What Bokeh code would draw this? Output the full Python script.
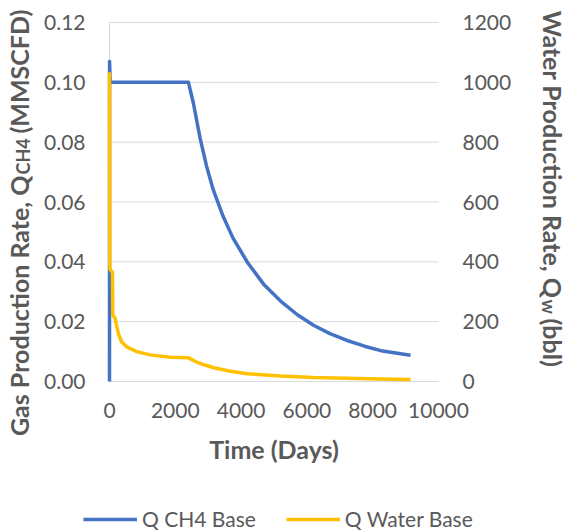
import numpy as np
from bokeh.plotting import figure
from bokeh.models import (Range1d, LinearAxis, Label, Legend, LegendItem,
                          FixedTicker, NumeralTickFormatter)
from bokeh.embed import file_html
from bokeh.resources import INLINE

# ---- data ----
time_ch4 = [0, 2, 20, 2400, 2550, 2750, 2950, 3150, 3450, 3750, 4200,
            4700, 5200, 5700, 6200, 6700, 7200, 7750, 8250, 9150]
q_ch4 = [0.0, 0.107, 0.100, 0.100, 0.0930, 0.0815, 0.0720, 0.0642, 0.0553,
         0.0480, 0.0397, 0.0323, 0.0269, 0.0224, 0.0188, 0.0160, 0.0138,
         0.0118, 0.0103, 0.0088]

time_w = [0, 8, 15, 90, 100, 170, 200, 270, 370, 520, 830, 1230, 1850,
          2400, 2650, 2900, 3170, 3670, 4180, 5200, 6200, 7200, 8200, 9150]
q_w = [1034, 390, 375, 365, 222, 212, 195, 160, 132, 116, 100, 89, 81,
       79, 65, 55, 46, 34, 26, 18, 13, 11, 8.5, 6.5]

x_ticks = [0, 2000, 4000, 6000, 8000, 10000]
y_ticks = [0.0, 0.02, 0.04, 0.06, 0.08, 0.10, 0.12]
yw_ticks = [0, 200, 400, 600, 800, 1000, 1200]

FONT = "Lato"
GREY = "#595959"
BLUE = "#4472C4"
GOLD = "#FFC000"
GRID = "#D9D9D9"

# ---- layout: the plotting frame is the whole canvas; the plot area of the
# chart is placed inside it with fixed-location axes ----
W, H = 575, 532
PL, PR, PT, PB = 109, 438, 22, 381           # plot-area edges in pixels
XA, XB = x_ticks[0], x_ticks[-1]
YA, YB = y_ticks[0], y_ticks[-1]
WA, WB = yw_ticks[0], yw_ticks[-1]

def span(a, b, lo_px, hi_px, total):
    per = (b - a) / (hi_px - lo_px)
    return a - lo_px * per, b + (total - hi_px) * per

x0, x1 = span(XA, XB, PL, PR, W)
y0, y1 = span(YA, YB, H - PB, H - PT, H)
w0, w1 = span(WA, WB, H - PB, H - PT, H)

p = figure(width=W, height=H, output_backend="svg", toolbar_location=None,
           x_range=Range1d(x0, x1), y_range=Range1d(y0, y1), min_border=0)
p.min_border_left = p.min_border_right = 0
p.min_border_top = p.min_border_bottom = 0
p.extra_y_ranges = {"w": Range1d(w0, w1)}
p.outline_line_color = None
p.grid.visible = False

def style_axis(ax, standoff):
    ax.major_tick_line_color = None
    ax.minor_tick_line_color = None
    ax.major_tick_out = 0
    ax.major_tick_in = 0
    ax.major_label_text_font = FONT
    ax.major_label_text_font_size = "21px"
    ax.major_label_text_color = GREY
    ax.major_label_standoff = standoff
    ax.axis_line_color = GRID
    ax.axis_line_width = 1
    ax.level = "underlay"

xa = p.xaxis[0]
xa.ticker = FixedTicker(ticks=x_ticks)
xa.fixed_location = YA
xa.bounds = (XA, XB)
style_axis(xa, 21)
xa.axis_label = "Time (Days)"
xa.axis_label_text_font = FONT
xa.axis_label_text_font_style = "bold"
xa.axis_label_text_font_size = "25px"
xa.axis_label_text_color = GREY
xa.axis_label_standoff = 13

ya = p.yaxis[0]
ya.ticker = FixedTicker(ticks=y_ticks)
ya.formatter = NumeralTickFormatter(format="0.00")
ya.fixed_location = XA
ya.bounds = (YA, YB)
style_axis(ya, 24)

ra = LinearAxis(y_range_name="w", ticker=FixedTicker(ticks=yw_ticks),
                fixed_location=XB, bounds=(WA, WB))
style_axis(ra, 24)
ra.axis_line_color = None
p.add_layout(ra, "right")

# horizontal gridlines of the plot area, at the left-axis ticks
p.segment(x0=[XA] * len(y_ticks), x1=[XB] * len(y_ticks), y0=y_ticks,
          y1=y_ticks, line_color=GRID, line_width=1)

l1 = p.line(time_ch4, q_ch4, line_color=BLUE, line_width=3.5, line_join="round")
l2 = p.line(time_w, q_w, y_range_name="w", line_color=GOLD, line_width=3.5,
            line_join="round")

legend = Legend(items=[LegendItem(label="Q CH4 Base", renderers=[l1]),
                       LegendItem(label="Q Water Base", renderers=[l2])],
                orientation="horizontal", location=(83, 1),
                glyph_width=54, glyph_height=20, label_standoff=5, spacing=30,
                padding=0, margin=0, border_line_color=None,
                background_fill_alpha=0, label_text_font=FONT,
                label_text_font_size="21px", label_text_color=GREY)
p.add_layout(legend, "center")

# axis titles with subscripts (positions in pixels -> data units)
def dx(px):
    return x0 + px / W * (x1 - x0)

def dy(py):
    return y0 + (H - py) / H * (y1 - y0)

def lab(text, px, py, angle, align, size):
    p.add_layout(Label(x=dx(px), y=dy(py), text=text, angle=angle,
                       text_align=align, text_baseline="alphabetic",
                       text_font=FONT, text_font_style="bold",
                       text_font_size=size, text_color=GREY))

lab("Gas Production Rate, Q", 18, 175, np.pi / 2, "right", "25px")
lab("CH4", 22, 174, np.pi / 2, "left", "18px")
lab(" (MMSCFD)", 18, 133, np.pi / 2, "left", "25px")

lab("Water Production Rate, Q", 552, 298, -np.pi / 2, "right", "25px")
lab("w", 548, 299, -np.pi / 2, "left", "18px")
lab(" (bbl)", 552, 318, -np.pi / 2, "left", "25px")

open("out.html", "w").write(file_html(p, INLINE))
